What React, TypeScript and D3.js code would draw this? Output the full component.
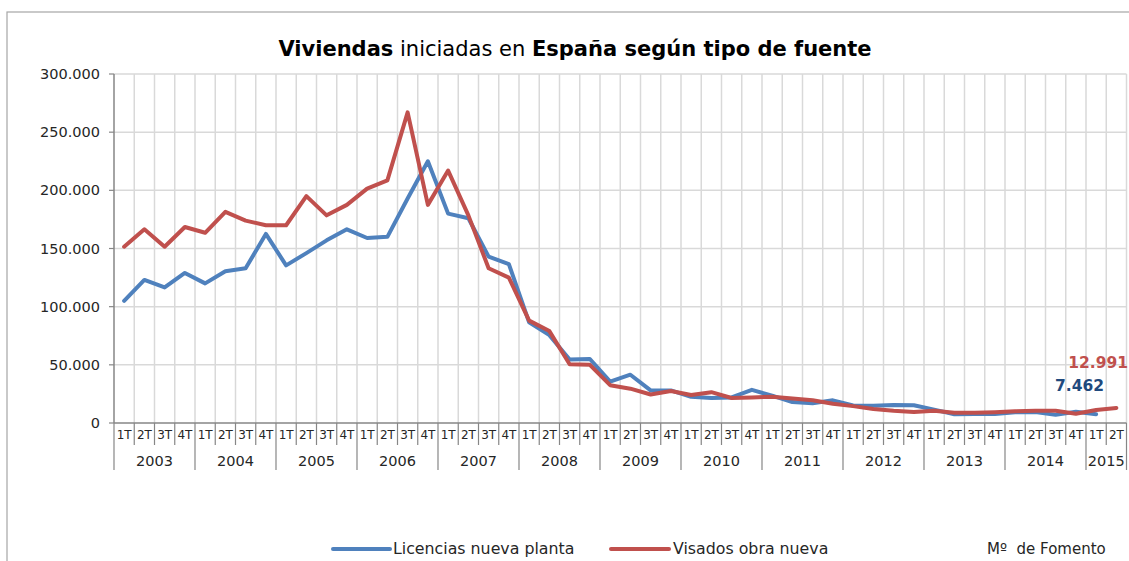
import React from "react";
import * as d3 from "d3";

const quarters = ["1T", "2T", "3T", "4T"];
const years = ["2003", "2004", "2005", "2006", "2007", "2008", "2009", "2010", "2011", "2012", "2013", "2014", "2015"];
const nCategories = 50;

const licencias = [
  105000, 123000, 116500, 129000, 120000, 130500, 133000, 162500, 135500, 146000, 157000, 166500,
  159000, 160000, 193000, 225000, 180000, 176000, 143000, 136500, 86500, 75500, 54500, 55000,
  35500, 41500, 28000, 28000, 22500, 21500, 22000, 28500, 23500, 18000, 17000, 19500,
  15000, 14800, 15500, 15300, 11500, 7500, 7700, 7800, 9200, 9500, 7000, 9600,
  7462,
];

const visados = [
  151500, 166500, 151500, 168500, 163500, 181500, 174000, 170000, 170000, 195000, 178500, 187500,
  201500, 208500, 267000, 187500, 217000, 178500, 133000, 125000, 88000, 79000, 50500, 50000,
  32500, 29500, 24500, 27500, 24000, 26500, 21500, 22000, 22500, 21000, 19500, 16500,
  14500, 12000, 10500, 9500, 10500, 8800, 8800, 9300, 10000, 10500, 10500, 8000,
  11200, 12991,
];

const yTicks = [0, 50000, 100000, 150000, 200000, 250000, 300000];

const seriesNames = ["Licencias nueva planta", "Visados obra nueva"];
const BLUE = "#4F81BD";
const RED = "#C0504D";
const FONT = "'DejaVu Sans', sans-serif";

const locale = d3.formatLocale({ decimal: ",", thousands: ".", grouping: [3], currency: ["", "€"] });
const fmt = locale.format(",");

export default function App() {
  const W = 1129, H = 561;
  const left = 114, right = 114 + 20.25 * nCategories, top = 74, bottom = 423;
  const x = d3.scaleLinear().domain([0, nCategories]).range([left, right]);
  const y = d3.scaleLinear().domain([0, 300000]).range([bottom, top]);
  const cx = (i: number) => x(i + 0.5);

  const line = d3.line<number>().x((_, i) => cx(i)).y((d) => y(d));

  const lastL = licencias.length - 1;
  const lastV = visados.length - 1;

  return (
    <svg width={W} height={H} style={{ position: "absolute", left: 0, top: 0, display: "block" }}>
      <rect x={0} y={0} width={W} height={H} fill="#fff" />
      <rect x={7} y={12} width={W + 20} height={H + 20} fill="none" stroke="#A6A6A6" strokeWidth={1.2} />
      <text x={575} y={56} textAnchor="middle" fontFamily={FONT} fontSize={21} fill="#000">
        <tspan fontWeight="bold">Viviendas</tspan>
        <tspan> iniciadas en </tspan>
        <tspan fontWeight="bold">España según tipo de fuente</tspan>
      </text>

      {yTicks.slice(1).map((t) => (
        <line key={"h" + t} x1={left} x2={right} y1={y(t)} y2={y(t)} stroke="#D9D9D9" strokeWidth={1.5} />
      ))}
      {d3.range(1, nCategories + 1).map((k) => (
        <line key={"v" + k} x1={x(k)} x2={x(k)} y1={top} y2={bottom} stroke="#D9D9D9" strokeWidth={1.5} />
      ))}

      <line x1={left} x2={left} y1={top} y2={bottom} stroke="#868686" strokeWidth={1.5} />
      {yTicks.map((t) => (
        <g key={"yt" + t}>
          <line x1={left - 5} x2={left} y1={y(t)} y2={y(t)} stroke="#868686" strokeWidth={1.2} />
          <text x={100} y={y(t) + 5} textAnchor="end" fontFamily={FONT} fontSize={14.5} fill="#262626">
            {fmt(t)}
          </text>
        </g>
      ))}

      <line x1={left} x2={right} y1={bottom} y2={bottom} stroke="#868686" strokeWidth={1.5} />
      {d3.range(0, nCategories + 1).map((k) => (
        <line key={"xt" + k} x1={x(k)} x2={x(k)} y1={bottom} y2={k % 4 === 0 || k === nCategories ? 470 : 445}
          stroke="#868686" strokeWidth={1.2} />
      ))}
      {d3.range(0, nCategories).map((k) => (
        <text key={"q" + k} x={cx(k)} y={439} textAnchor="middle" fontFamily={FONT} fontSize={12} fill="#262626">
          {quarters[k % 4]}
        </text>
      ))}
      {years.map((yr, j) => {
        const a = j * 4;
        const b = Math.min(a + 4, nCategories);
        return (
          <text key={yr} x={(x(a) + x(b)) / 2} y={466} textAnchor="middle" fontFamily={FONT} fontSize={14.5} fill="#262626">
            {yr}
          </text>
        );
      })}

      <path d={line(licencias) || ""} fill="none" stroke={BLUE} strokeWidth={4} strokeLinejoin="round" strokeLinecap="round" />
      <path d={line(visados) || ""} fill="none" stroke={RED} strokeWidth={4} strokeLinejoin="round" strokeLinecap="round" />

      <text x={1104} y={391} textAnchor="end" fontFamily={FONT} fontSize={15.5} fontWeight="bold" fill="#1F497D">
        {fmt(licencias[lastL])}
      </text>
      <text x={1128} y={368} textAnchor="end" fontFamily={FONT} fontSize={15.5} fontWeight="bold" fill="#C0504D">
        {fmt(visados[lastV])}
      </text>

      <line x1={333} x2={390} y1={549} y2={549} stroke={BLUE} strokeWidth={4} strokeLinecap="round" />
      <text x={393} y={554} fontFamily={FONT} fontSize={15.8} fill="#262626">{seriesNames[0]}</text>
      <line x1={611} x2={669} y1={549} y2={549} stroke={RED} strokeWidth={4} strokeLinecap="round" />
      <text x={673} y={554} fontFamily={FONT} fontSize={15.8} fill="#262626">{seriesNames[1]}</text>
      <text x={987} y={554} fontFamily={FONT} fontSize={15} fill="#262626" xmlSpace="preserve">Mº  de Fomento</text>
    </svg>
  );
}
